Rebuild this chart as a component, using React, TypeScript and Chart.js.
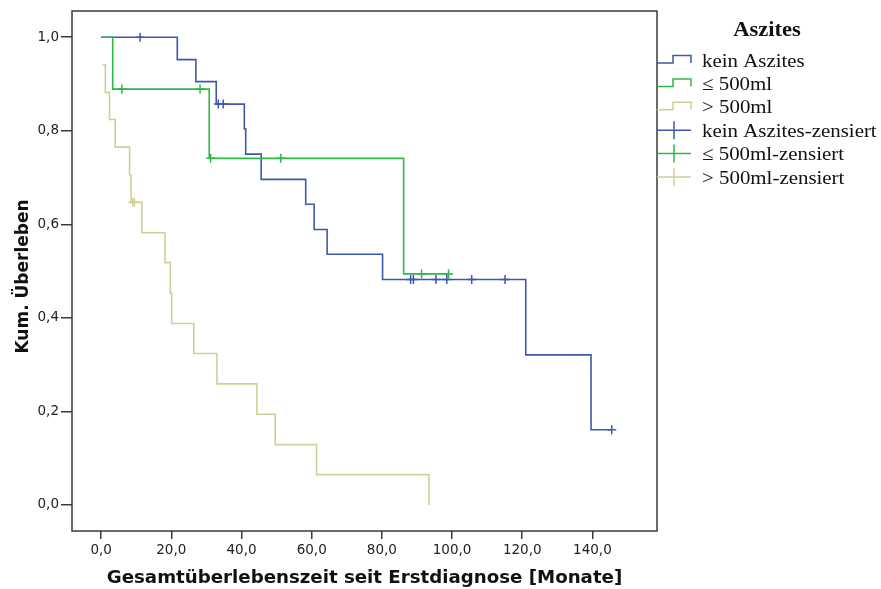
import React, { useEffect, useRef } from 'react';
import { Chart, registerables } from 'chart.js';

Chart.register(...registerables);

// ---------- data ----------
const xTicks = [0, 20, 40, 60, 80, 100, 120, 140];
const yTicks = [0, 0.2, 0.4, 0.6, 0.8, 1.0];

const legendTitle = 'Aszites';
const seriesNames = ['kein Aszites', '≤ 500ml', '> 500ml'];
const censorNames = ['kein Aszites-zensiert', '≤ 500ml-zensiert', '> 500ml-zensiert'];
const seriesColors = ['#3e58ac', '#2eb848', '#d3ce97'];

const keinTimes = [0, 21.7, 27.0, 32.8, 40.8, 41.2, 45.6, 58.3, 60.7, 64.4, 80.2, 121.0, 139.6, 145.5];
const keinSurv = [1.0, 0.952, 0.905, 0.857, 0.804, 0.75, 0.696, 0.643, 0.589, 0.536, 0.482, 0.321, 0.161, 0.161];
const keinCensTimes = [11.1, 33.4, 34.8, 88.2, 89.0, 95.4, 98.5, 105.6, 115.1, 145.5];
const keinCensSurv = [1.0, 0.857, 0.857, 0.482, 0.482, 0.482, 0.482, 0.482, 0.482, 0.161];

const kleinTimes = [0, 3.3, 30.8, 86.2, 99.0];
const kleinSurv = [1.0, 0.889, 0.741, 0.494, 0.494];
const kleinCensTimes = [5.9, 28.2, 31.2, 51.2, 91.3, 99.0];
const kleinCensSurv = [0.889, 0.889, 0.741, 0.741, 0.494, 0.494];

const grossTimes = [0.4, 1.2, 2.4, 4.0, 8.1, 8.5, 11.6, 18.2, 19.7, 20.1, 26.4, 33.0, 44.4, 49.6, 61.4, 93.4];
const grossSurv = [0.941, 0.882, 0.824, 0.765, 0.706, 0.647, 0.582, 0.518, 0.453, 0.388, 0.324, 0.259, 0.194, 0.129, 0.065, 0.0];
const grossCensTimes = [9.0, 9.5];
const grossCensSurv = [0.647, 0.647];

const curveTimes = [keinTimes, kleinTimes, grossTimes];
const curveSurv = [keinSurv, kleinSurv, grossSurv];
const censTimes = [keinCensTimes, kleinCensTimes, grossCensTimes];
const censSurv = [keinCensSurv, kleinCensSurv, grossCensSurv];
const curveOrder = [1, 0, 2];

const xTitle = 'Gesamtüberlebenszeit seit Erstdiagnose [Monate]';
const yTitle = 'Kum. Überleben';

const SANS = "'DejaVu Sans', Verdana, sans-serif";
const SERIF = "'Liberation Serif', 'Times New Roman', serif";

const fmt = (v: number) => Number(v).toFixed(1).replace('.', ',');

const stretchText = (ctx: any, text: string, x: number, y: number, sx: number, align: string) => {
  ctx.save();
  ctx.translate(x, y);
  ctx.scale(sx, 1);
  ctx.textAlign = align;
  ctx.fillText(text, 0, 0);
  ctx.restore();
};

const framePlugin = {
  id: 'frameAndLegend',
  afterDraw(chart: any) {
    const { ctx, chartArea } = chart;
    ctx.save();
    ctx.strokeStyle = '#3a3a3a';
    ctx.lineWidth = 1.5;
    ctx.strokeRect(chartArea.left, chartArea.top, chartArea.right - chartArea.left, chartArea.bottom - chartArea.top);

    // y-axis title
    ctx.save();
    ctx.translate(24, 276.5);
    ctx.rotate(-Math.PI / 2);
    ctx.font = `bold 17px ${SANS}`;
    ctx.fillStyle = '#111';
    ctx.textAlign = 'center';
    ctx.textBaseline = 'middle';
    ctx.fillText(yTitle, 0, 0);
    ctx.restore();

    // legend
    const x0 = chartArea.right;
    const symW = 34;
    const textX = x0 + 45;
    ctx.fillStyle = '#111';
    ctx.textBaseline = 'alphabetic';
    ctx.font = `bold 20.5px ${SERIF}`;
    stretchText(ctx, legendTitle, 767, 36, 1.1, 'center');

    ctx.font = `19px ${SERIF}`;
    const base0 = 66.5;
    const step = 23.4;
    const rows = [...seriesNames, ...censorNames];
    rows.forEach((label, i) => {
      const b = base0 + step * i;
      const color = seriesColors[i % 3];
      ctx.strokeStyle = color;
      ctx.lineWidth = 1.5;
      ctx.beginPath();
      if (i < 3) {
        ctx.moveTo(x0, b - 3.5);
        ctx.lineTo(x0 + 16, b - 3.5);
        ctx.lineTo(x0 + 16, b - 11);
        ctx.lineTo(x0 + symW, b - 11);
        ctx.lineTo(x0 + symW, b - 3.5);
      } else {
        ctx.moveTo(x0, b - 6.5);
        ctx.lineTo(x0 + symW, b - 6.5);
        ctx.moveTo(x0 + 17, b - 15.5);
        ctx.lineTo(x0 + 17, b + 2.5);
      }
      ctx.stroke();
      ctx.fillStyle = '#111';
      stretchText(ctx, label, textX, b, 1.1, 'left');
    });
    ctx.restore();
  },
};

export default function App() {
  const canvasRef = useRef<HTMLCanvasElement | null>(null);

  useEffect(() => {
    const canvas = canvasRef.current;
    if (!canvas) return;

    const datasets: any[] = [];
    for (let s = 0; s < 3; s++) {
      datasets.push({
        label: seriesNames[s],
        data: curveTimes[s].map((t, i) => ({ x: t, y: curveSurv[s][i] })),
        showLine: true,
        stepped: 'before',
        borderColor: seriesColors[s],
        borderWidth: 1.6,
        pointRadius: 0,
        fill: false,
        order: curveOrder[s],
      });
    }
    for (let s = 0; s < 3; s++) {
      datasets.push({
        label: censorNames[s],
        data: censTimes[s].map((t, i) => ({ x: t, y: censSurv[s][i] })),
        showLine: false,
        pointStyle: 'cross',
        pointRadius: 4.5,
        pointBorderWidth: 1.5,
        borderColor: seriesColors[s],
        backgroundColor: seriesColors[s],
        order: -1,
      });
    }

    const chart = new Chart(canvas, {
      type: 'scatter',
      data: { datasets },
      options: {
        animation: false,
        responsive: false,
        devicePixelRatio: 1,
        layout: { padding: { top: 11, right: 224, left: 0, bottom: 0 } },
        plugins: { legend: { display: false }, tooltip: { enabled: false } },
        scales: {
          x: {
            type: 'linear',
            min: -8.3,
            max: 158.4,
            afterBuildTicks: (scale: any) => {
              scale.ticks = xTicks.map((v) => ({ value: v }));
            },
            afterFit: (scale: any) => {
              scale.height = 58;
            },
            grid: { drawOnChartArea: false, drawTicks: true, tickLength: 8, color: '#3a3a3a', lineWidth: 1.5 },
            border: { display: false },
            ticks: {
              callback: (v: any) => fmt(v),
              font: { family: SANS, size: 13.5 },
              color: '#222',
              padding: 3,
              maxRotation: 0,
              autoSkip: false,
            },
            title: {
              display: true,
              text: xTitle,
              font: { family: SANS, size: 18.2, weight: 'bold' },
              color: '#111',
              padding: { top: 0, bottom: 0 },
            },
          },
          y: {
            type: 'linear',
            min: -0.0556,
            max: 1.056,
            afterBuildTicks: (scale: any) => {
              scale.ticks = yTicks.map((v) => ({ value: v }));
            },
            afterFit: (scale: any) => {
              scale.width = 72;
            },
            grid: { drawOnChartArea: false, drawTicks: true, tickLength: 11, color: '#3a3a3a', lineWidth: 1.5 },
            border: { display: false },
            ticks: {
              callback: (v: any) => fmt(v),
              font: { family: SANS, size: 13.5 },
              color: '#222',
              padding: 2,
              autoSkip: false,
            },
            title: { display: false },
          },
        },
      },
      plugins: [framePlugin],
    });

    return () => chart.destroy();
  }, []);

  return (
    <div style={{ position: 'absolute', left: 0, top: 0, width: 881, height: 589, background: '#fff' }}>
      <canvas ref={canvasRef} width={881} height={589} style={{ width: 881, height: 589 }} />
    </div>
  );
}
